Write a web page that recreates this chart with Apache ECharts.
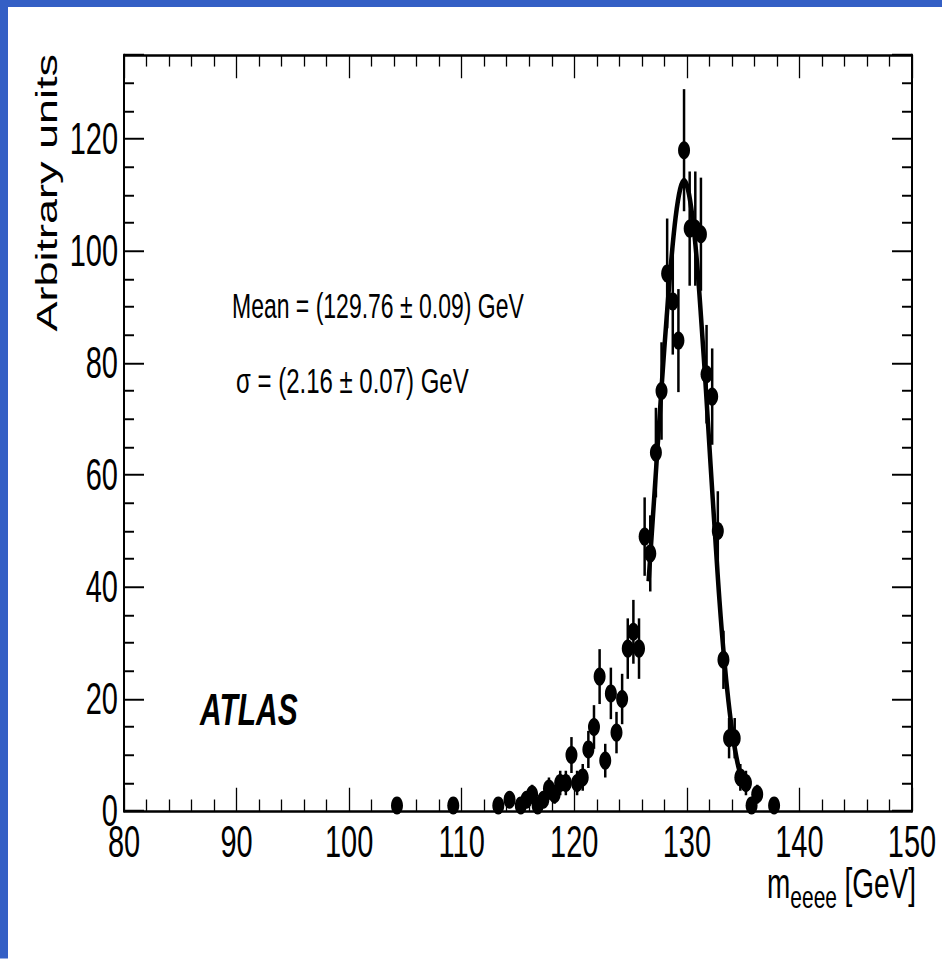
<!DOCTYPE html>
<html>
<head>
<meta charset="utf-8">
<script src="https://cdn.jsdelivr.net/npm/echarts@6/dist/echarts.min.js"></script>
<style>
  html, body { margin: 0; padding: 0; background: #fff; }
  #page { position: relative; width: 942px; height: 959px; overflow: hidden; }
  /* The chart is laid out at 2/3 height and stretched vertically to the page height. */
  #chart { position: absolute; left: 0; top: 0; width: 942px; height: 639.333px; transform: scaleY(1.5); transform-origin: 0 0; }
</style>
</head>
<body>
<div id="page"><div id="chart"></div></div>
<script>
// Four-electron invariant mass, 0.5 GeV bins (bin centres in GeV)
const massBins = [104.25, 109.25, 113.25, 114.25, 115.25, 115.75, 116.25, 116.75,
  117.25, 117.75, 118.25, 118.75, 119.25, 119.75, 120.25, 120.75,
  121.25, 121.75, 122.25, 122.75, 123.25, 123.75, 124.25, 124.75,
  125.25, 125.75, 126.25, 126.75, 127.25, 127.75, 128.25, 128.75,
  129.25, 129.75, 130.25, 130.75, 131.25, 131.75, 132.25, 132.75,
  133.25, 133.75, 134.25, 134.75, 135.25, 135.75, 136.25, 137.75];
const counts = [1, 1, 1, 2, 1, 2, 3, 1,
  2, 4, 3, 5, 5, 10, 5, 6,
  11, 15, 24, 9, 21, 14, 20, 29,
  32, 29, 49, 46, 64, 75, 96, 91,
  84, 118, 104, 104, 103, 78, 74, 50,
  27, 13, 13, 6, 5, 1, 3, 1];
const countErrors = [1.0, 1.0, 1.0, 1.4, 1.0, 1.4, 1.7, 1.0,
  1.4, 2.0, 1.7, 2.2, 2.2, 3.2, 2.2, 2.4,
  3.3, 3.9, 4.9, 3.0, 4.6, 3.7, 4.5, 5.4,
  5.7, 5.4, 7.0, 6.8, 8.0, 8.7, 9.8, 9.5,
  9.2, 10.9, 10.2, 10.2, 10.1, 8.8, 8.6, 7.1,
  5.2, 3.6, 3.6, 2.4, 2.2, 1.0, 1.7, 1.0];

// Gaussian fit curve, sampled along the fitted range
const fitMass = [126.6, 127.0, 127.4, 127.8, 128.2, 128.6, 129.0, 129.4, 129.75,
  130.1, 130.5, 130.9, 131.3, 131.7, 132.1, 132.5, 132.9, 133.3, 133.7,
  134.1, 134.5, 134.9, 135.2];
const fitValues = [41, 53, 65, 77, 88, 98, 106, 111, 112.5,
  111, 106, 98, 87, 75, 62, 49.5, 37.5, 27.5, 19.5,
  13.2, 8.6, 5.6, 4.0];

// Axis ranges and labelled ticks
const xTickLabels = [80, 90, 100, 110, 120, 130, 140, 150];
const yTickLabels = [0, 20, 40, 60, 80, 100, 120];
const xRange = [80, 150];
const yRange = [0, 135];

const fitText = ['Mean = (129.76 \u00b1 0.09) GeV', '\u03c3 = (2.16 \u00b1 0.07) GeV'];
const experimentText = 'ATLAS';
const yTitle = 'Arbitrary units';
const xTitleParts = ['m', 'eeee', '[GeV]'];

const W = 942, H = 959 / 1.5;
const chart = echarts.init(document.getElementById('chart'), null, { renderer: 'svg', width: W, height: H });

const FONT = '"Liberation Sans", Arial, Helvetica, sans-serif';
const black = '#000';
const frameBlue = '#345fc5';

function labelFrom(list) {
  return v => (list.indexOf(Math.round(v * 1000) / 1000) >= 0 ? String(v) : '');
}

const xCommon = {
  type: 'value', min: xRange[0], max: xRange[1], interval: 10,
  splitLine: { show: false },
  axisLine: { show: true, onZero: false, lineStyle: { color: black, width: 1.6 } },
  axisTick: { show: true, inside: true, length: 15.5, lineStyle: { color: black, width: 1.3 } },
  minorTick: { show: true, splitNumber: 5, length: 7.7, lineStyle: { color: black, width: 1.3 } }
};
const yCommon = {
  type: 'value', min: yRange[0], max: yRange[1], interval: 20,
  splitLine: { show: false },
  axisLine: { show: true, onZero: false, lineStyle: { color: black, width: 2 } },
  axisTick: { show: true, inside: true, length: 20, lineStyle: { color: black, width: 1.3 } },
  minorTick: { show: true, splitNumber: 4, length: 10, lineStyle: { color: black, width: 1.3 } }
};

const option = {
  animation: false,
  backgroundColor: '#fff',
  grid: { left: 124, right: 30, top: 55 / 1.5, bottom: 148 / 1.5, outerBoundsMode: 'none', containLabel: false },
  xAxis: [
    Object.assign({}, xCommon, {
      position: 'bottom',
      axisLabel: { show: true, color: black, fontFamily: FONT, fontSize: 29, margin: 6.5, formatter: labelFrom(xTickLabels) }
    }),
    Object.assign({}, xCommon, { position: 'top', axisLabel: { show: false } })
  ],
  yAxis: [
    Object.assign({}, yCommon, {
      position: 'left',
      axisLabel: { show: true, color: black, fontFamily: FONT, fontSize: 29, margin: 6, formatter: labelFrom(yTickLabels) }
    }),
    Object.assign({}, yCommon, { position: 'right', axisLabel: { show: false } })
  ],
  series: [
    {
      name: 'errors',
      type: 'custom',
      xAxisIndex: 0, yAxisIndex: 0,
      data: massBins.map((m, i) => [m, counts[i], countErrors[i]]),
      encode: { x: 0, y: 1 },
      renderItem: function (params, api) {
        const x = api.value(0), y = api.value(1), e = api.value(2);
        const lo = api.coord([x, y - e]);
        const hi = api.coord([x, y + e]);
        return {
          type: 'line',
          shape: { x1: lo[0], y1: lo[1], x2: hi[0], y2: hi[1] },
          style: { stroke: black, lineWidth: 2.5 }
        };
      },
      z: 2
    },
    {
      name: 'data',
      type: 'scatter',
      xAxisIndex: 0, yAxisIndex: 0,
      data: massBins.map((m, i) => [m, counts[i]]),
      symbol: 'circle',
      symbolSize: 12,
      itemStyle: { color: black, opacity: 1 },
      z: 3
    },
    {
      name: 'fit',
      type: 'line',
      xAxisIndex: 0, yAxisIndex: 0,
      data: fitMass.map((m, i) => [m, fitValues[i]]),
      smooth: 0.35,
      showSymbol: false,
      lineStyle: { color: black, width: 4.5 },
      z: 4
    }
  ],
  graphic: [
    { type: 'rect', shape: { x: 0, y: 0, width: W, height: 7 / 1.5 }, style: { fill: frameBlue }, silent: true },
    { type: 'rect', shape: { x: 0, y: 0, width: 8, height: H }, style: { fill: frameBlue }, silent: true },
    {
      type: 'text', x: 46, y: 36, rotation: Math.PI / 2,
      style: { text: yTitle, font: '30px ' + FONT, fill: black, align: 'right', verticalAlign: 'middle' }
    },
    {
      type: 'text', x: 232, y: 203.5,
      style: { text: fitText[0], font: '23px ' + FONT, fill: black, align: 'left', verticalAlign: 'middle' }
    },
    {
      type: 'text', x: 236, y: 253.3,
      style: { text: fitText[1], font: '24px ' + FONT, fill: black, align: 'left', verticalAlign: 'middle' }
    },
    {
      type: 'text', x: 200, y: 472.9,
      style: { text: experimentText, font: 'italic bold 30px ' + FONT, fill: black, align: 'left', verticalAlign: 'middle' }
    },
    {
      type: 'text', x: 767, y: 589,
      style: { text: xTitleParts[0], font: '28px ' + FONT, fill: black, align: 'left', verticalAlign: 'middle' }
    },
    {
      type: 'text', x: 790.3, y: 598.4,
      style: { text: xTitleParts[1], font: '21px ' + FONT, fill: black, align: 'left', verticalAlign: 'middle' }
    },
    {
      type: 'text', x: 916, y: 589,
      style: { text: xTitleParts[2], font: '28px ' + FONT, fill: black, align: 'right', verticalAlign: 'middle' }
    }
  ]
};
chart.setOption(option);
</script>
</body>
</html>
